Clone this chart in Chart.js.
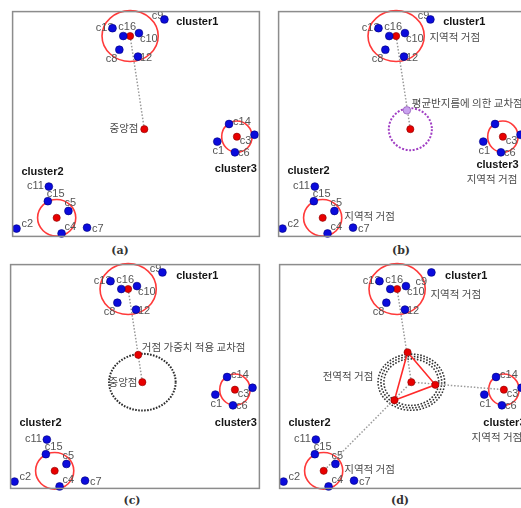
<!DOCTYPE html>
<html>
<head>
<meta charset="utf-8">
<script src="https://cdn.jsdelivr.net/npm/chart.js@4/dist/chart.umd.min.js"></script>
<style>
  html, body { margin: 0; padding: 0; background: #fff; overflow: hidden; width: 521px; height: 508px; }
  canvas.panel { position: absolute; }
  .cap { position: absolute; font: bold 11px "DejaVu Serif", "Liberation Serif", serif; color: #333; transform: translateX(-50%); }
</style>
</head>
<body>
<div class="cap" style="left:120px; top:244px">(a)</div>
<div class="cap" style="left:401px; top:244px">(b)</div>
<div class="cap" style="left:132px; top:494px">(c)</div>
<div class="cap" style="left:400px; top:494px">(d)</div>

<script>
// Member points (x to the right, y downward)
const pointNames = ['c1', 'c2', 'c3', 'c4', 'c5', 'c6', 'c7', 'c8', 'c9', 'c10', 'c11', 'c12', 'c13', 'c14', 'c15', 'c16'];
const pointX = [209, 4, 247, 50, 57, 227, 76, 109, 155, 129, 37, 128, 102, 221, 36, 113];
const pointY = [133, 222, 126, 227, 204, 144, 221, 39, 8, 22, 179, 46, 17, 115, 194, 25];

// Cluster centres and their circles
const clusterNames = ['cluster1', 'cluster2', 'cluster3'];
const clusterX = [120, 45, 229];
const clusterY = [25, 211, 128];
const clusterRadiusX = [28.7, 19.5, 15.5];
const clusterRadiusY = [26, 18.7, 16];

// Overall centre point (중앙점)
const centreX = 134.5;
const centreY = 120.3;

// (b) crossing by mean radius
const meanCrossX = 131;
const meanCrossY = 101;
const meanRadiusX = 22;
const meanRadiusY = 21.5;

// (c) crossing with weighted distance
const weightCrossX = 130.3;
const weightCrossY = 92.3;
const weightRadiusX = 34;
const weightRadiusY = 29;

// (d) global hub triangle and its rings
const globalX = [130.7, 159, 117.3];
const globalY = [89.7, 123, 138.7];
const globalRingX = [28, 31, 34];
const globalRingY = [23.8, 26.3, 28.7];

// ---- styles ----
const BLUE = '#0b0bdc';
const RED = '#e80000';
const RING_RED = '#ff3a3a';
const DOT_GREY = '#9a9a9a';
const LABEL_FONT = '11px "Liberation Sans", Arial, sans-serif';
const BOLD_FONT = 'bold 11px "Liberation Sans", Arial, sans-serif';
const KO_FONT = '10.5px "Noto Sans CJK KR", sans-serif';

// label placement around each member point: [dx, dy, align]
const labelPlace = {
  c1: [1, 9.5, 'center'], c2: [5, -4.5, 'left'], c3: [-9, 6.5, 'center'], c4: [3, -6, 'left'],
  c5: [2, -8, 'center'], c6: [3, 0.5, 'left'], c7: [5, 1, 'left'], c8: [-2, 9, 'right'],
  c9: [-1, -3, 'right'], c10: [1, 6, 'left'], c11: [-5, -1, 'right'], c12: [-3.5, 1, 'left'],
  c13: [1, 0, 'right'], c14: [4, -2, 'left'], c15: [-1, -7, 'left'], c16: [-5, -9, 'left']
};

const pts = (xs, ys) => xs.map((x, i) => ({ x, y: ys[i] }));
const members = pts(pointX, pointY);
const centres = pts(clusterX, clusterY);
const centrePt = { x: centreX, y: centreY };

function link(a, b) {
  return {
    data: [a, b], showLine: true, borderColor: DOT_GREY, borderWidth: 1.5,
    borderDash: [1.5, 1.8], pointRadius: 0, clip: false, order: 10
  };
}
function dots(data, fill, edge, r) {
  return {
    data, backgroundColor: fill, borderColor: edge, borderWidth: 0.6,
    pointRadius: r, showLine: false, clip: false, order: 1
  };
}

const clusterRings = clusterX.map((x, i) => ({
  x, y: clusterY[i], rx: clusterRadiusX[i], ry: clusterRadiusY[i], color: RING_RED, width: 1.6, dash: []
}));

const panels = [
  {
    left: 10, top: 9, w: 252, h: 230,
    rings: clusterRings,
    datasets: [
      dots(members, BLUE, '#00007a', 3.9),
      dots([...centres, centrePt], RED, '#8a0000', 3.6),
      link(centres[0], centrePt)
    ],
    notes: [
      { t: 'cluster1', x: 167, y: 11, a: 'left', b: true },
      { t: 'cluster2', x: 30.5, y: 163.7, a: 'center', b: true },
      { t: 'cluster3', x: 228, y: 161, a: 'center', b: true },
      { t: '중앙점', x: 128.5, y: 119.5, a: 'right', k: true }
    ]
  },
  {
    left: 276, top: 9, w: 252, h: 230,
    rings: [...clusterRings,
      { x: centreX, y: centreY, rx: meanRadiusX, ry: meanRadiusY, color: '#a13fc4', width: 2, dash: [2, 1.6] }],
    hide: ['c14'],
    datasets: [
      dots(members, BLUE, '#00007a', 3.9),
      dots([...centres, centrePt], RED, '#8a0000', 3.6),
      dots([{ x: meanCrossX, y: meanCrossY }], '#c9a2ee', '#7d3fa8', 3.8),
      link(centres[0], centrePt)
    ],
    notes: [
      { t: 'cluster1', x: 168, y: 11, a: 'left', b: true },
      { t: '지역적 거점', x: 154, y: 26, a: 'left', k: true },
      { t: '평균반지름에 의한 교차점', x: 136, y: 94, a: 'left', k: true },
      { t: 'cluster2', x: 30.5, y: 163.3, a: 'center', b: true },
      { t: '지역적 거점', x: 67, y: 209, a: 'left', k: true },
      { t: 'cluster3', x: 202, y: 157, a: 'left', b: true },
      { t: '지역적 거점', x: 192, y: 171, a: 'left', k: true }
    ]
  },
  {
    left: 8, top: 262, w: 254, h: 229,
    rings: [...clusterRings,
      { x: centreX, y: centreY, rx: weightRadiusX, ry: weightRadiusY, color: '#2a2a2a', width: 2, dash: [1.6, 1.4] }],
    datasets: [
      dots(members, BLUE, '#00007a', 3.9),
      dots([...centres, centrePt, { x: weightCrossX, y: weightCrossY }], RED, '#8a0000', 3.6),
      link(centres[0], centrePt)
    ],
    notes: [
      { t: 'cluster1', x: 169, y: 12, a: 'left', b: true },
      { t: '거점 가중치 적용 교차점', x: 134, y: 84, a: 'left', k: true },
      { t: '중앙점', x: 129.5, y: 120, a: 'right', k: true },
      { t: 'cluster2', x: 30.5, y: 162, a: 'center', b: true },
      { t: 'cluster3', x: 230, y: 162, a: 'center', b: true }
    ]
  },
  {
    left: 277, top: 262, w: 252, h: 229,
    rings: [...clusterRings,
      ...globalRingX.map((rx, i) => ({ x: centreX, y: centreY, rx, ry: globalRingY[i], color: '#333', width: 1.6, dash: [1.6, 1.6] }))],
    place: { c9: [-10, 10, 'center'] },
    datasets: [
      dots(members, BLUE, '#00007a', 3.9),
      dots([...centres, centrePt, ...pts(globalX, globalY)], RED, '#8a0000', 3.6),
      {
        data: [...pts(globalX, globalY), { x: globalX[0], y: globalY[0] }], showLine: true,
        borderColor: '#ff2a2a', borderWidth: 1.6, pointRadius: 0, clip: false, order: 5
      },
      link(centres[0], centrePt),
      link(centrePt, centres[1]),
      link(centrePt, centres[2])
    ],
    notes: [
      { t: 'cluster1', x: 169, y: 12, a: 'left', b: true },
      { t: '지역적 거점', x: 154, y: 30, a: 'left', k: true },
      { t: '전역적 거점', x: 44, y: 114, a: 'left', k: true },
      { t: 'cluster2', x: 30.5, y: 162, a: 'center', b: true },
      { t: '지역적 거점', x: 66, y: 209, a: 'left', k: true },
      { t: 'cluster3', x: 208, y: 162, a: 'left', b: true },
      { t: '지역적 거점', x: 196, y: 176, a: 'left', k: true }
    ]
  }
];

// draws frame, rings and text for one panel
function sketchPlugin(cfg) {
  return {
    id: 'sketch',
    beforeDatasetsDraw(chart) {
      const { ctx, scales: { x, y } } = chart;
      ctx.save();
      cfg.rings.forEach(r => {
        const cx = x.getPixelForValue(r.x), cy = y.getPixelForValue(r.y);
        const rx = Math.abs(x.getPixelForValue(r.x + r.rx) - cx);
        const ry = Math.abs(y.getPixelForValue(r.y + r.ry) - cy);
        ctx.beginPath();
        ctx.setLineDash(r.dash);
        ctx.strokeStyle = r.color;
        ctx.lineWidth = r.width;
        ctx.ellipse(cx, cy, rx, ry, 0, 0, Math.PI * 2);
        ctx.stroke();
      });
      ctx.setLineDash([]);
      ctx.textBaseline = 'middle';
      // member labels
      ctx.font = LABEL_FONT;
      ctx.fillStyle = '#555';
      pointNames.forEach((name, i) => {
        if (cfg.hide && cfg.hide.includes(name)) return;
        const p = (cfg.place && cfg.place[name]) || labelPlace[name];
        ctx.textAlign = p[2];
        ctx.fillText(name, x.getPixelForValue(pointX[i]) + p[0], y.getPixelForValue(pointY[i]) + p[1]);
      });
      // cluster names and notes
      cfg.notes.forEach(n => {
        ctx.font = n.b ? BOLD_FONT : KO_FONT;
        ctx.fillStyle = n.b ? '#151515' : '#4a4a4a';
        ctx.textAlign = n.a;
        ctx.fillText(n.t, x.getPixelForValue(n.x), y.getPixelForValue(n.y));
      });
      ctx.restore();
    },
    afterDraw(chart) {
      const { ctx, chartArea: a } = chart;
      ctx.save();
      ctx.strokeStyle = '#8c8c8c';
      ctx.lineWidth = 1.5;
      ctx.strokeRect(a.left, a.top, a.right - a.left, a.bottom - a.top);
      ctx.restore();
    }
  };
}

panels.forEach(cfg => {
  const cv = document.createElement('canvas');
  cv.className = 'panel';
  cv.width = cfg.w + 4;
  cv.height = cfg.h + 4;
  cv.style.left = (cfg.left - 2) + 'px';
  cv.style.top = (cfg.top - 2) + 'px';
  document.body.appendChild(cv);
  new Chart(cv, {
    type: 'scatter',
    data: { datasets: cfg.datasets },
    options: {
      responsive: false,
      animation: false,
      devicePixelRatio: 1,
      events: [],
      layout: { padding: 2 },
      plugins: { legend: { display: false }, tooltip: { enabled: false } },
      elements: { line: { tension: 0 } },
      scales: {
        x: { type: 'linear', min: 0, max: cfg.w, display: false },
        y: { type: 'linear', min: 0, max: cfg.h, reverse: true, display: false }
      }
    },
    plugins: [sketchPlugin(cfg)]
  });
});
</script>
</body>
</html>
